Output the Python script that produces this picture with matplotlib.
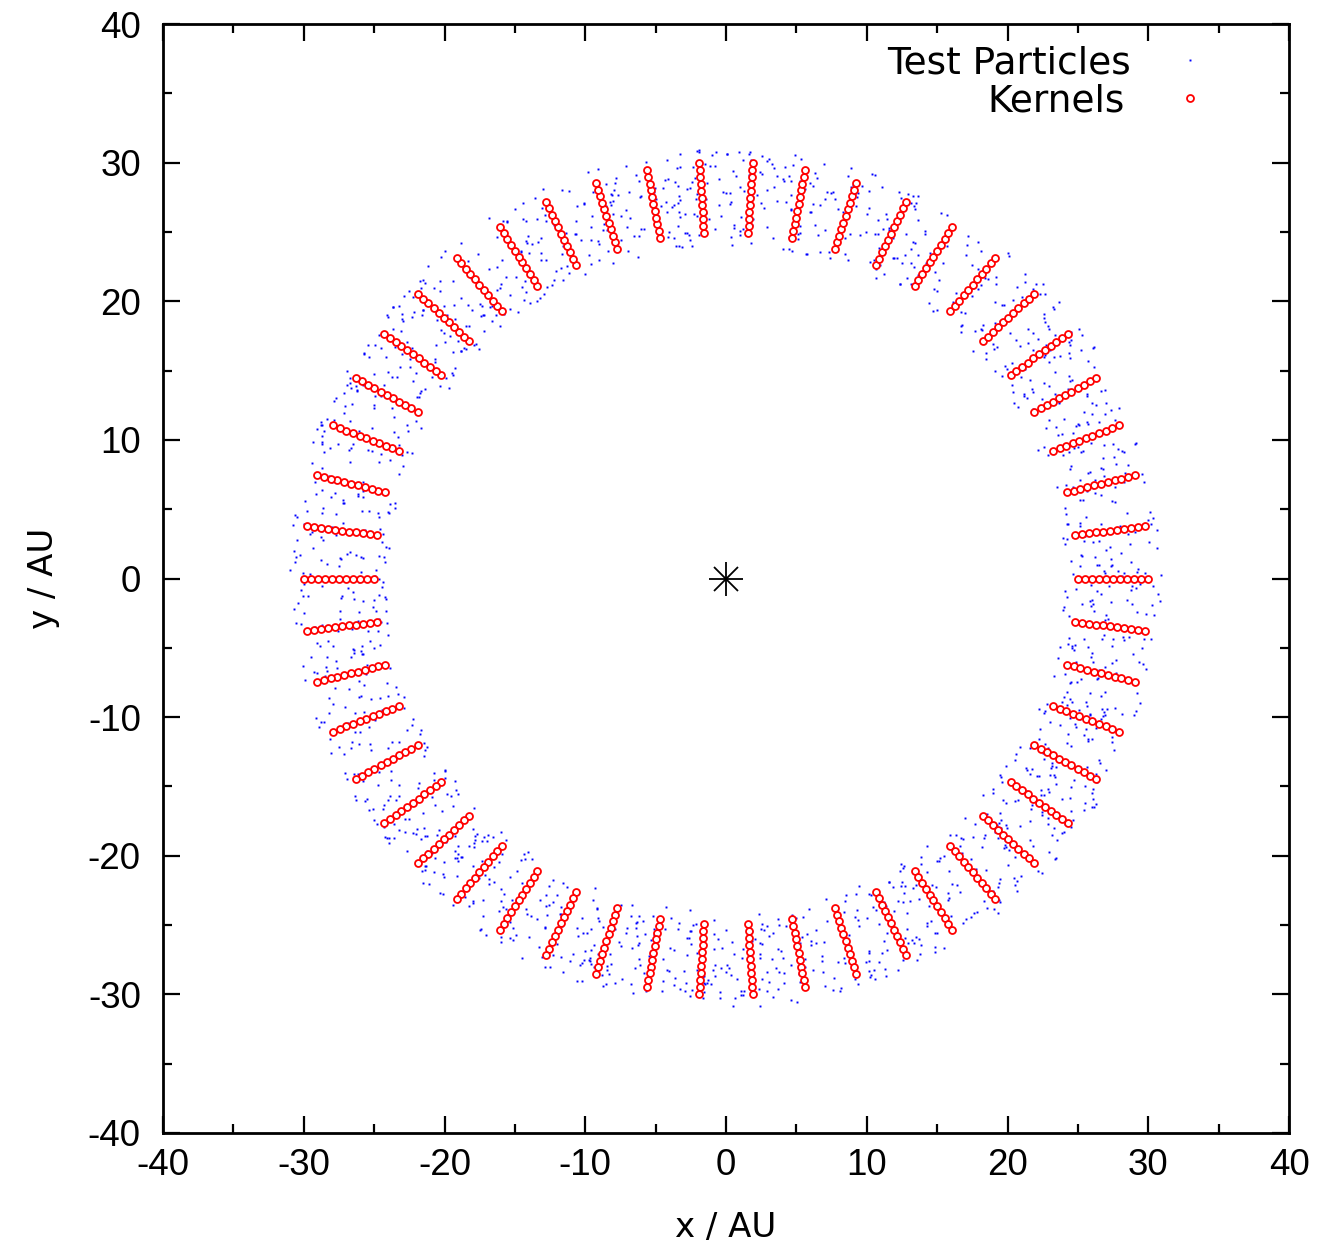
import numpy as np
import matplotlib
matplotlib.use("Agg")
import matplotlib.pyplot as plt

# Kernel layout: 50 radial spokes, 11 kernels per spoke
spoke_angles_deg = [0.0, 7.2, 14.4, 21.6, 28.8, 36.0, 43.2, 50.4, 57.6, 64.8,
                    72.0, 79.2, 86.4, 93.6, 100.8, 108.0, 115.2, 122.4, 129.6, 136.8,
                    144.0, 151.2, 158.4, 165.6, 172.8, 180.0, 187.2, 194.4, 201.6, 208.8,
                    216.0, 223.2, 230.4, 237.6, 244.8, 252.0, 259.2, 266.4, 273.6, 280.8,
                    288.0, 295.2, 302.4, 309.6, 316.8, 324.0, 331.2, 338.4, 345.6, 352.8]
kernel_radii_au = [25.0, 25.5, 26.0, 26.5, 27.0, 27.5, 28.0, 28.5, 29.0, 29.5, 30.0]

# Test-particle ring: uniform-in-area sample between these radii
particle_count = 1800
particle_r_inner = 24.0
particle_r_outer = 31.0
particle_seed = 7

# Central star
star_x = [0.0]
star_y = [0.0]

axis_ticks = [-40, -30, -20, -10, 0, 10, 20, 30, 40]

# --- derived positions ---
ang = np.deg2rad(np.array(spoke_angles_deg))[:, None]
rad = np.array(kernel_radii_au)[None, :]
kx = (rad * np.cos(ang)).ravel()
ky = (rad * np.sin(ang)).ravel()

rng = np.random.default_rng(particle_seed)
pr = np.sqrt(rng.uniform(particle_r_inner**2, particle_r_outer**2, particle_count))
pt = rng.uniform(0, 2 * np.pi, particle_count)
px = pr * np.cos(pt)
py = pr * np.sin(pt)

fig = plt.figure(figsize=(13.18, 12.49), dpi=100)
ax = fig.add_axes([163 / 1318, 1 - 1133 / 1249, (1289 - 163) / 1318, (1133 - 24) / 1249])

ax.plot(px, py, ls="none", marker="s", ms=1.4, mew=0, color="#0000ff")
ax.plot(kx, ky, ls="none", marker="o", ms=5.0, mfc="white", mec="#ff0000", mew=1.3)
ax.plot(star_x, star_y, ls="none", marker="+", ms=24.5, mew=1.3, color="black")
ax.plot(star_x, star_y, ls="none", marker="x", ms=17.5, mew=1.3, color="black")

ax.set_xlim(-40, 40)
ax.set_ylim(-40, 40)
ax.set_xticks(axis_ticks)
ax.set_yticks(axis_ticks)
ax.set_xticks(np.array(axis_ticks[:-1]) + 5, minor=True)
ax.set_yticks(np.array(axis_ticks[:-1]) + 5, minor=True)

tick_font = {"family": "Liberation Sans", "size": 26.5}
ax.set_xticklabels([str(t) for t in axis_ticks], fontdict=tick_font)
ax.set_yticklabels([str(t) for t in axis_ticks], fontdict=tick_font)
ax.tick_params(which="both", direction="in", top=True, right=True, width=1.6)
ax.tick_params(which="major", length=12.5)
ax.tick_params(which="minor", length=6.5)
ax.tick_params(axis="y", which="major", pad=16)
ax.tick_params(axis="x", which="major", pad=11)
for s in ax.spines.values():
    s.set_linewidth(2.0)

label_font = {"family": "DejaVu Sans", "size": 24.5}
ax.set_xlabel("x / AU", fontdict=label_font, labelpad=20)
ax.set_ylabel("y / AU", fontdict=label_font, labelpad=20)

# Key in the upper-right corner
leg_font = {"family": "DejaVu Sans", "size": 27}
ax.text(28.75, 36.46, "Test Particles", ha="right", va="baseline", fontdict=leg_font)
ax.text(28.3, 33.72, "Kernels", ha="right", va="baseline", fontdict=leg_font)
ax.plot([32.95], [37.4], ls="none", marker="s", ms=1.4, mew=0, color="#0000ff")
ax.plot([32.95], [34.66], ls="none", marker="o", ms=5.0, mfc="white", mec="#ff0000", mew=1.3)

fig.savefig("out.png", dpi=100)
